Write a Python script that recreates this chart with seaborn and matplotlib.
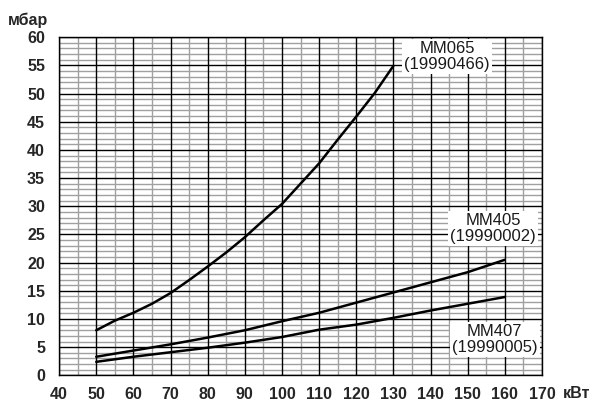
import matplotlib
matplotlib.use("Agg")
import matplotlib.pyplot as plt
import seaborn as sns
import pandas as pd
import numpy as np

power_065 = [50, 55, 60, 65, 70, 75, 80, 85, 90, 95, 100, 105, 110, 115, 120, 125, 130]
mm065 = [8.0, 9.7, 11.1, 12.7, 14.6, 16.9, 19.3, 21.8, 24.5, 27.5, 30.4, 34.0, 37.6, 41.8, 45.9, 50.1, 54.9]
power_4xx = [50, 60, 70, 80, 90, 100, 110, 120, 130, 140, 150, 160]
mm405 = [3.3, 4.4, 5.5, 6.7, 8.0, 9.6, 11.1, 12.9, 14.7, 16.5, 18.3, 20.5]
mm407 = [2.4, 3.3, 4.1, 4.9, 5.8, 6.8, 8.1, 9.0, 10.2, 11.5, 12.7, 13.9]
labels = ["MM065\n(19990466)", "MM405\n(19990002)", "MM407\n(19990005)"]
label_pos = [(144.5, 56.5), (156.8, 26.0), (157.3, 6.4)]
x_ticks = list(range(40, 171, 10))
y_ticks = list(range(0, 61, 5))

df = pd.concat([
    pd.DataFrame({"kw": power_065, "mbar": mm065, "s": "065"}),
    pd.DataFrame({"kw": power_4xx, "mbar": mm405, "s": "405"}),
    pd.DataFrame({"kw": power_4xx, "mbar": mm407, "s": "407"}),
])

sns.set_style("white")
plt.rcParams['font.family'] = ['Liberation Sans', 'DejaVu Sans']

fig = plt.figure(figsize=(5.91, 4.08), dpi=100)
ax = fig.add_axes([0.1, 0.08, 0.817, 0.829])

# grid
for x in np.arange(45, 170, 10):
    ax.axvline(x, color="#a0a0a0", lw=1.0, zorder=0)
for x in x_ticks:
    ax.axvline(x, color="black", lw=1.0, zorder=0.5)
for y in range(1, 60):
    if y % 5:
        ax.axhline(y, color="#a0a0a0", lw=1.0, zorder=0)
for y in y_ticks:
    ax.axhline(y, color="black", lw=1.0, zorder=0.5)

sns.lineplot(data=df, x="kw", y="mbar", units="s", estimator=None,
             color="black", lw=1.8, ax=ax, zorder=3)

for lab, (x, y) in zip(labels, label_pos):
    ax.text(x, y, lab, ha="center", va="center", fontsize=12, color="#1a1a1a",
            linespacing=1.1, zorder=4,
            bbox=dict(facecolor="white", edgecolor="none", pad=1.5))

ax.set_xlim(40, 170)
ax.set_ylim(0, 60)
ax.set_xticks(x_ticks)
ax.set_yticks(y_ticks)
ax.set_xticklabels([str(v) for v in x_ticks], fontweight="bold", fontsize=11.5)
ax.set_yticklabels([str(v) for v in y_ticks], fontweight="bold", fontsize=11.5)
ax.tick_params(axis="both", direction="out", length=3.6, width=1, color="black")
ax.tick_params(axis="x", pad=5)
ax.tick_params(axis="y", pad=6.5)
ax.set_xlabel("")
ax.set_ylabel("")
for sp in ax.spines.values():
    sp.set_color("black")
    sp.set_linewidth(1)

fig.text(8 / 591, 1 - 20 / 408, "мбар", fontsize=11.5, fontweight="bold", va="center", ha="left")
fig.text(563 / 591, 1 - 393 / 408, "кВт", fontsize=11.5, fontweight="bold", va="center", ha="left")

fig.savefig("out.png", dpi=100)
